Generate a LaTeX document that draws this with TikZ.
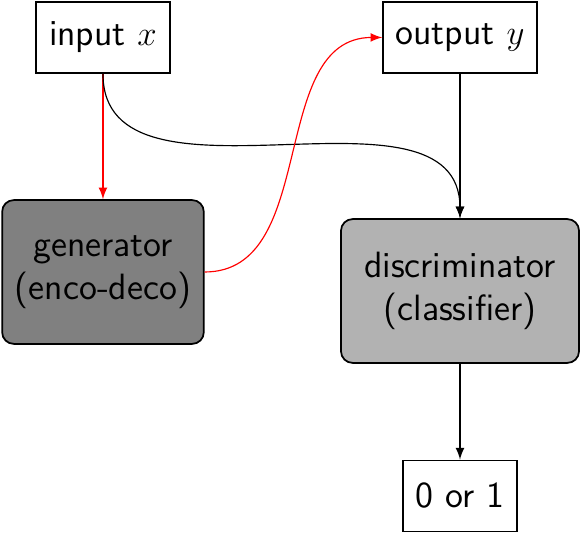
\documentclass[tikz,border=0pt]{standalone}
\usepackage{amsmath}
\usepackage{tikz}
\tikzset{>=latex}
\usetikzlibrary{calc,arrows,positioning}

\begin{document}
\begin{tikzpicture}[
    box/.style={draw=black, semithick, fill=white, font=\sffamily\fontsize{12.6}{14.6}\selectfont, align=center, minimum height=0.86cm, inner sep=0pt},
    net/.style={draw=black, semithick, rounded corners=4pt, font=\sffamily\fontsize{12.6}{14.6}\selectfont, align=center, minimum height=1.74cm, inner sep=0pt},
    flow/.style={->, black},
    gen/.style={->, red}]
            \useasboundingbox (0,0) rectangle (7.03,6.461);

            \node[box, minimum width=1.62cm] (In) at (1.246,6.008) {input $x$};
            \node[box, minimum width=1.86cm] (Out) at (5.566,6.008) {output $y$};
            \node[net, fill=black!50, minimum width=2.44cm] (Gen) at (1.246,3.170) {generator\\(enco-deco)};
            \node[net, fill=black!30, minimum width=2.88cm] (Dis) at (5.566,2.940) {discriminator\\(classifier)};
            \node[box, minimum width=1.38cm] (Res) at (5.566,0.460) {0 or 1};

            \draw[gen] (In.south) -- (Gen.north);
            \draw[flow] (In.south) to[out=-90, in=90] (Dis.north);
            \draw[gen] (Gen.east) to[out=0, in=180] (Out.west);
            \draw[flow] (Out.south) -- (Dis.north);
            \draw[flow] (Dis.south) -- (Res.north);
        \end{tikzpicture}
\end{document}
